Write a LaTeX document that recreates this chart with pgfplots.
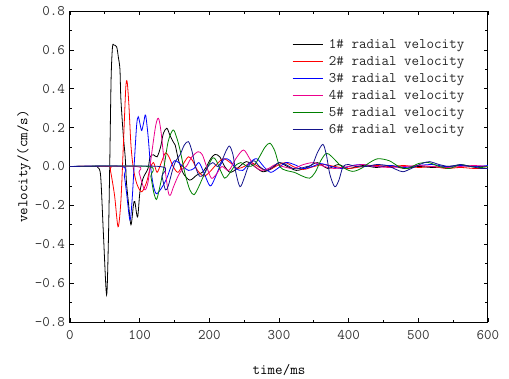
\documentclass[border=0pt]{standalone}
\usepackage{fontspec}
\usepackage{pgfplots}
\pgfplotsset{compat=1.18}
\renewcommand*\familydefault{\ttdefault}
\definecolor{cnavy}{RGB}{20,20,140}
\definecolor{cgreen}{RGB}{0,128,0}
\newcommand{\ff}{\fontsize{14.6pt}{17pt}\selectfont\ttfamily}
\begin{document}
\ff
\begin{tikzpicture}
\path[use as bounding box] (-70pt,-56pt) rectangle (439pt,322pt);
\begin{axis}[
  scale only axis, width=418pt, height=311pt,
  at={(0,0)}, anchor=south west,
  xmin=0, xmax=600, ymin=-0.8, ymax=0.8,
  xtick={0,100,...,600}, minor x tick num=1,
  ytick={-0.8,-0.6,-0.4,-0.2,0,0.2,0.4,0.6,0.8}, minor y tick num=1,
  tick align=inside, major tick length=4pt, minor tick length=2.5pt,
  tick style={black, line width=0.7pt},
  axis line style={line width=1pt},
  /pgf/number format/assume math mode=true,
  yticklabel style={/pgf/number format/fixed, /pgf/number format/fixed zerofill, /pgf/number format/precision=1, xshift=0pt},
  xticklabel style={/pgf/number format/fixed, yshift=-3pt},
  ticklabel style={font=\ff, text=black!80},
  label style={font=\ff, text=black!85},
  xlabel={time/ms}, ylabel={velocity/(cm/s)},
  every axis x label/.style={at={(axis description cs:0.5,-0.154)}, anchor=center},
  every axis y label/.style={at={(axis description cs:-0.11,0.5)}, rotate=90, anchor=center},
  legend cell align=left,
  legend style={draw=none, fill=none, inner sep=0pt, at={(rel axis cs:0.531,0.915)}, anchor=north west,
    font=\ff, text=black!85, row sep=3pt,
    nodes={inner ysep=0pt, text height=10.5pt, text depth=3.5pt},
    /tikz/every odd column/.append style={column sep=4pt}},
  legend image code/.code={\draw[#1] (0pt,0pt) -- (30pt,0pt);},
  every axis plot/.append style={line width=0.8pt, smooth, tension=0.5},
]
\addplot[black] coordinates {(0,0)(35,0)(40,-0.005)(44,-0.05)(48,-0.35)(52.5,-0.66)(55,-0.4)(57,0)(59,0.45)(61,0.615)(63,0.625)(67,0.615)(69.5,0.56)(71.7,0.5)(73,0.35)(76.5,0.16)(79,0.06)(80,0.0)(81,-0.08)(83.7,-0.18)(87.5,-0.30)(91,-0.2)(93,-0.18)(97,-0.26)(100.4,-0.13)(105,-0.06)(112,-0.01)(115,0.05)(120,0.06)(125,0.05)(130,0.1)(134,0.17)(139,0.197)(143.5,0.16)(148,0.128)(151,0.11)(156,0.03)(162.6,-0.035)(172,-0.07)(182,-0.044)(190,-0.03)(196,0.0)(202,0.04)(208,0.062)(215,0.05)(222,0.0)(230,-0.03)(240,-0.01)(253,0.025)(265,0.0)(277,-0.027)(290,-0.01)(300,0.02)(312,0.0)(325,-0.02)(340,-0.005)(355,0.02)(370,-0.01)(385,0.01)(400,-0.01)(420,0.005)(440,-0.005)(460,0.005)(480,-0.01)(500,0.0)(520,-0.005)(540,0.0)(560,0.005)(580,0.0)(600,0.0)};
\addlegendentry{1\# radial velocity}
\addplot[red] coordinates {(0,0)(55,0)(58,-0.02)(64,-0.15)(69,-0.31)(73,-0.18)(76.5,0.1)(80,0.4)(82,0.436)(84.5,0.32)(87.5,0.11)(91,-0.01)(96,-0.09)(103,-0.13)(110,-0.08)(115,-0.01)(120,0.02)(125,-0.03)(131,0.02)(137,0.07)(142,0.05)(148,0.0)(155,-0.03)(162,0.01)(170,0.05)(176,0.03)(183,-0.02)(192,-0.05)(200,-0.03)(210,0.01)(220,0.04)(230,0.02)(240,-0.01)(250,0.0)(260,0.02)(270,0.0)(280,-0.02)(290,-0.01)(300,0.01)(310,0.02)(320,0.0)(335,-0.015)(350,0.0)(365,0.01)(380,0.0)(400,-0.01)(420,0.0)(440,0.005)(460,0.0)(480,0.005)(500,-0.005)(520,0.0)(540,-0.01)(560,-0.005)(580,-0.01)(600,-0.01)};
\addlegendentry{2\# radial velocity}
\addplot[blue] coordinates {(0,0)(74,0)(78,-0.05)(81,-0.13)(86,-0.275)(89,-0.18)(92,0.0)(95.6,0.21)(98,0.256)(101,0.21)(103,0.185)(106,0.23)(108.5,0.265)(112,0.16)(115.7,0.0)(119.5,-0.095)(124,-0.14)(131.5,-0.11)(139,-0.06)(145,0.0)(150,0.03)(156,0.02)(162,0.0)(170,-0.02)(178,-0.01)(185,0.02)(192,-0.03)(201,-0.1)(208,-0.06)(215,0.0)(222,0.04)(230,0.03)(238,-0.01)(248,-0.02)(258,0.02)(268,0.04)(278,0.0)(288,-0.03)(298,-0.01)(310,0.02)(322,0.01)(335,-0.01)(348,0.0)(360,0.015)(375,0.0)(390,-0.01)(405,0.005)(420,0.01)(440,0.0)(460,0.005)(480,-0.005)(500,0.005)(520,0.01)(540,0.0)(560,0.005)(580,0.0)(600,0.005)};
\addlegendentry{3\# radial velocity}
\addplot[magenta] coordinates {(0,0)(95,0)(99,-0.03)(103,-0.08)(107.6,-0.12)(112,-0.08)(117,0.06)(123,0.21)(127,0.248)(130.6,0.18)(136,0.0)(141,-0.13)(144,-0.148)(148,-0.11)(155,-0.05)(162,-0.01)(167,0.0)(175,0.05)(184,0.076)(190,0.06)(196,0.0)(203,-0.06)(210,-0.04)(218,0.0)(228,-0.02)(238,0.04)(249,0.085)(258,0.04)(265,0.0)(275,-0.02)(285,-0.01)(295,0.01)(305,0.0)(320,-0.01)(335,0.01)(350,0.02)(365,0.0)(380,-0.01)(400,0.0)(420,0.01)(440,0.0)(460,-0.005)(480,0.0)(500,0.005)(520,0.0)(540,-0.005)(560,0.0)(580,0.005)(600,0.0)};
\addlegendentry{4\# radial velocity}
\addplot[cgreen] coordinates {(0,0)(112,0)(116,-0.05)(120,-0.13)(124,-0.17)(128,-0.12)(135,0.0)(141,0.13)(148,0.188)(153,0.15)(158,0.085)(165,-0.035)(172,-0.12)(178,-0.145)(184,-0.11)(189,-0.07)(198,0.0)(205,0.045)(210,0.03)(216,-0.02)(222,-0.06)(228,-0.04)(236,0.0)(245,0.02)(255,0.0)(265,0.01)(272,0.05)(280,0.1)(287,0.12)(294,0.08)(301,0.0)(310,-0.02)(322,-0.03)(334,-0.05)(344,-0.06)(352,-0.03)(360,0.03)(368,0.068)(376,0.05)(390,0.0)(405,-0.025)(418,-0.01)(430,0.02)(442,0.04)(458,0.03)(472,0.0)(485,-0.01)(500,0.015)(515,0.02)(530,0.0)(545,-0.01)(560,0.01)(575,0.0)(590,-0.005)(600,0.0)};
\addlegendentry{5\# radial velocity}
\addplot[cnavy] coordinates {(0,0)(129,0)(132,-0.05)(137,-0.12)(141,-0.1)(147,-0.02)(152,0.03)(158,0.06)(164,0.11)(170,0.128)(175,0.08)(180,0.0)(186,-0.05)(192,-0.04)(198,0.0)(205,0.02)(212,0.0)(218,0.03)(224,0.08)(229,0.105)(234,0.06)(238,-0.03)(244,-0.104)(250,-0.06)(256,0.0)(264,0.03)(272,0.0)(282,-0.02)(292,0.0)(300,0.02)(310,0.01)(320,-0.01)(330,-0.01)(340,0.0)(348,0.01)(355,0.07)(363,0.114)(368,0.06)(373,-0.04)(380,-0.104)(386,-0.07)(392,0.0)(400,0.01)(410,0.0)(425,0.0)(440,0.01)(455,0.005)(468,-0.015)(478,-0.027)(490,-0.01)(505,0.015)(516,0.025)(530,0.01)(545,0.0)(560,0.01)(575,0.0)(590,-0.01)(600,-0.01)};
\addlegendentry{6\# radial velocity}
\end{axis}
\end{tikzpicture}
\end{document}
